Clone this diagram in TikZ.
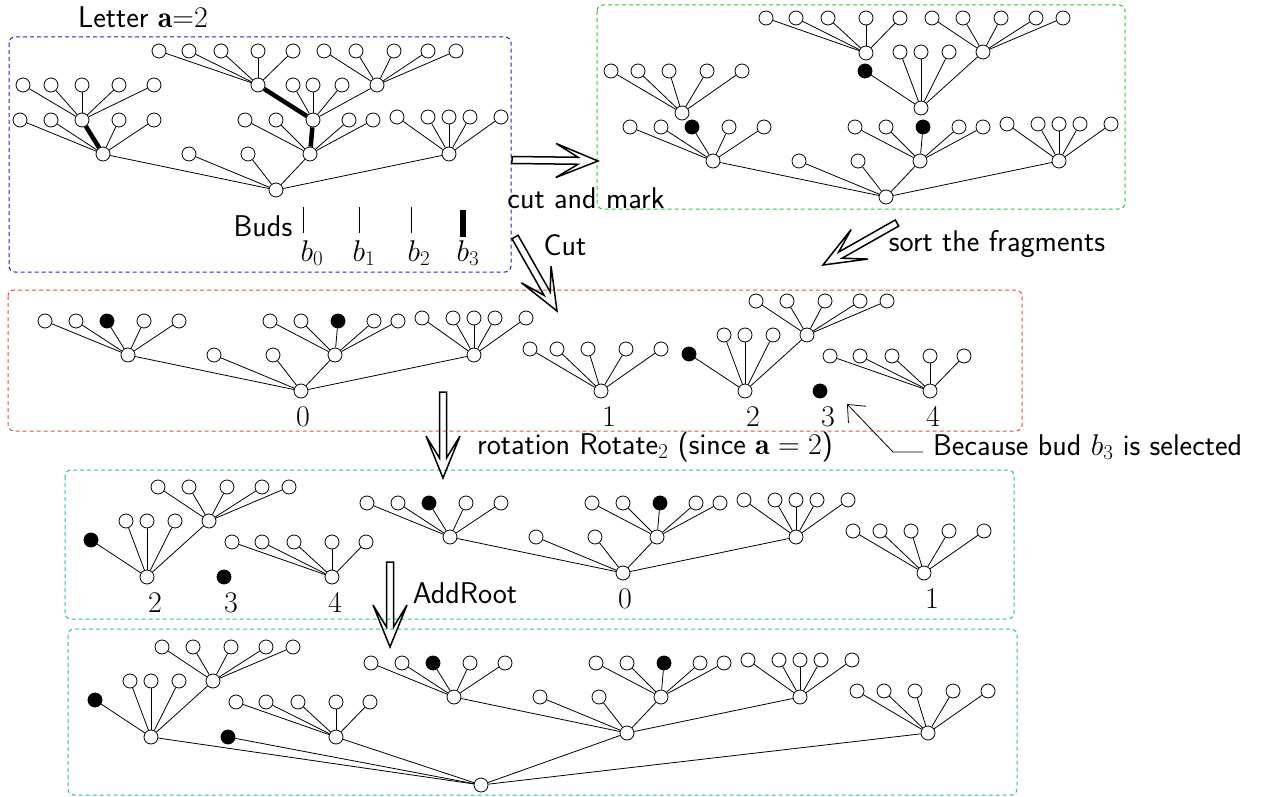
\RequirePackage{fix-cm}
\documentclass[tikz,border=0pt]{standalone}
\usepackage{fontspec}
\usetikzlibrary{calc,arrows.meta}
\renewcommand\familydefault{\sfdefault}
\definecolor{cblue}{RGB}{30,30,225}
\definecolor{cgreen}{RGB}{60,190,60}
\definecolor{cred}{RGB}{230,75,75}
\definecolor{cteal}{RGB}{45,185,185}
\tikzset{
  v/.style={circle,draw,fill=white,minimum size=14pt,inner sep=0pt,line width=0.8pt},
  bud/.style={v,fill=black},
  e/.style={line width=0.8pt},
  te/.style={line width=4.5pt},
  txt/.style={inner sep=1pt,font=\fontsize{30}{36}\selectfont},
  frame/.style={line width=1pt,dash pattern=on 4pt off 3pt,rounded corners=6pt},
  fatline/.style={line width=1.5pt,line join=miter},
  pointer/.style={line width=0.8pt,-{Straight Barb[length=14pt,width=24pt,line width=0.8pt]}}
}
\newcommand\Lroot{%
  \node[v] (R) at (0,0) {};
  \node[v] (A) at (-173,-36) {};
  \node[v] (L1) at (-87,-36) {};
  \node[v] (L2) at (-28,-36) {};
  \node[v] (B) at (34,-36) {};
  \node[v] (C) at (173,-36) {};
  \draw[e] (R) -- (A) (R) -- (L1) (R) -- (L2) (R) -- (B) (R) -- (C);
  \foreach \n/\xx in {a1/-256,a2/-225,a4/-157,a5/-122}{\node[v] (\n) at (\xx,-70) {}; \draw[e] (A) -- (\n);}
  \foreach \n/\xx in {b1/-31,b2/0,b4/73,b5/97}{\node[v] (\n) at (\xx,-70) {}; \draw[e] (B) -- (\n);}
  \foreach \n/\xx in {c1/121,c2/152,c3/173,c4/194,c5/225}{\node[v] (\n) at (\xx,-73) {}; \draw[e] (C) -- (\n);}
}
\newcommand\FragZero{\Lroot
  \node[bud] (a3) at (-194,-70) {}; \draw[e] (A) -- (a3);
  \node[bud] (b3) at (37,-70) {}; \draw[e] (B) -- (b3);}
\newcommand\FragOne{\node[v] (R) at (0,0) {};
  \foreach \n/\xx in {c1/-71,c2/-44,c3/-13,c4/25,c5/60}{\node[v] (\n) at (\xx,-42) {}; \draw[e] (R) -- (\n);}}
\newcommand\FragTwo{\node[v] (R) at (0,0) {};
  \node[bud] (x) at (-56,-37) {}; \draw[e] (R) -- (x);
  \foreach \n/\xx in {l1/-21,l2/0,l3/28}{\node[v] (\n) at (\xx,-56) {}; \draw[e] (R) -- (\n);}
  \node[v] (T) at (62,-56) {}; \draw[e] (R) -- (T);
  \foreach \n/\xx in {t1/11,t2/42,t3/80,t4/115,t5/142}{\node[v] (\n) at (\xx,-90) {}; \draw[e] (T) -- (\n);}}
\newcommand\FragThree{\node[bud] (R) at (0,0) {};}
\newcommand\FragFour{\node[v] (R) at (0,0) {};
  \foreach \n/\xx in {c1/-100,c2/-70,c3/-38,c4/0,c5/34}{\node[v] (\n) at (\xx,-35) {}; \draw[e] (R) -- (\n);}}
\newcommand\placefrag[3]{\begin{scope}[shift={#2},name prefix=#3-]#1\end{scope}}
\newcommand\fatarrow[2]{%
  \coordinate (#1-s) at ($(#2)!20pt!(#1)$);
  \coordinate (#1-b) at ($(#2)!42pt!(#1)$);
  \draw[fatline] ($(#1)!3.5pt!90:(#2)$) -- ($(#1-s)!3.5pt!90:(#2)$) -- ($(#1-b)!17pt!90:(#2)$)
    -- (#2) -- ($(#1-b)!17pt!-90:(#2)$) -- ($(#1-s)!3.5pt!-90:(#2)$) -- ($(#1)!3.5pt!-90:(#2)$) -- cycle;}
\begin{document}
\begin{tikzpicture}[x=1pt,y=-1pt]
\useasboundingbox (0,0) rectangle (1261,797);
% frames
\draw[frame,cblue] (9,37) rectangle (511,272);
\draw[frame,cgreen] (597,5) rectangle (1125,209);
\draw[frame,cred] (8,290) rectangle (1022,431);
\draw[frame,cteal] (65,470) rectangle (1014,619);
\draw[frame,cteal] (68,629) rectangle (1017,795);
% box 1: original tree
\begin{scope}[shift={(276,190)},name prefix=o-]
  \Lroot
  \node[v] (a3) at (-194,-70) {}; \draw[te] (A) -- (a3);
  \foreach \n/\xx in {p1/-253,p2/-225,p3/-194,p4/-157,p5/-122}{\node[v] (\n) at (\xx,-105) {}; \draw[e] (a3) -- (\n);}
  \node[v] (b3) at (37,-70) {}; \draw[te] (B) -- (b3);
  \node[v] (q1) at (-18,-105) {}; \draw[te] (b3) -- (q1);
  \foreach \n/\xx in {q2/17,q3/37,q4/66,q5/101}{\node[v] (\n) at (\xx,-105) {}; \draw[e] (b3) -- (\n);}
  \foreach \n/\xx in {r1/-117,r2/-87,r3/-55,r4/-18,r5/17}{\node[v] (\n) at (\xx,-139) {}; \draw[e] (q1) -- (\n);}
  \foreach \n/\xx in {s1/48,s2/80,s3/118,s4/152,s5/180}{\node[v] (\n) at (\xx,-139) {}; \draw[e] (q5) -- (\n);}
\end{scope}
\node[txt] (letter) at (143,17) {Letter $\mathbf{a}{=}2$};
\node[txt] (buds) at (263,226) {Buds};
\coordinate (bu0) at (303,207); \coordinate (bu1) at (359,207);
\coordinate (bu2) at (411,207); \coordinate (bu3) at (463,210);
\draw[e] (bu0) -- ++(0,26); \draw[e] (bu1) -- ++(0,26); \draw[e] (bu2) -- ++(0,26);
\draw[line width=5.5pt] (bu3) -- ++(0,27);
\node[txt] (bl0) at (312,253) {$b_0$};
\node[txt] (bl1) at (364,253) {$b_1$};
\node[txt] (bl2) at (419,253) {$b_2$};
\node[txt] (bl3) at (468,253) {$b_3$};
% box 2: cut and mark
\placefrag{\FragZero}{(886,197)}{g0}
\placefrag{\FragOne}{(682,113)}{g1}
\placefrag{\FragTwo}{(921,108)}{g2}
\placefrag{\FragFour}{(866,53)}{g4}
% box 3: fragments
\placefrag{\FragZero}{(301,391)}{h0}
\placefrag{\FragOne}{(601,391)}{h1}
\placefrag{\FragTwo}{(745,391)}{h2}
\placefrag{\FragThree}{(820,391)}{h3}
\placefrag{\FragFour}{(930,391)}{h4}
\node[txt] (hl0) at (303,417) {$0$};
\node[txt] (hl1) at (609,417) {$1$};
\node[txt] (hl2) at (753,417) {$2$};
\node[txt] (hl3) at (828,417) {$3$};
\node[txt] (hl4) at (933,417) {$4$};
% box 4: rotated
\placefrag{\FragTwo}{(147,577)}{k2}
\placefrag{\FragThree}{(224,577)}{k3}
\placefrag{\FragFour}{(332,577)}{k4}
\placefrag{\FragZero}{(623,573)}{k0}
\placefrag{\FragOne}{(924,573)}{k1}
\node[txt] (kl2) at (155,603) {$2$};
\node[txt] (kl3) at (231,603) {$3$};
\node[txt] (kl4) at (335,603) {$4$};
\node[txt] (kl0) at (625,599) {$0$};
\node[txt] (kl1) at (932,599) {$1$};
% box 5: add root
\placefrag{\FragTwo}{(151,737)}{m2}
\placefrag{\FragThree}{(228,737)}{m3}
\placefrag{\FragFour}{(336,737)}{m4}
\placefrag{\FragZero}{(627,733)}{m0}
\placefrag{\FragOne}{(928,733)}{m1}
\node[v] (newroot) at (481,785) {};
\foreach \f in {m2,m3,m4,m0,m1}{\draw[e] (newroot) -- (\f-R);}
% big arrows
\coordinate (a1t) at (512,160); \coordinate (a1h) at (598,161);
\fatarrow{a1t}{a1h}
\coordinate (a2t) at (515,237); \coordinate (a2h) at (557,311);
\fatarrow{a2t}{a2h}
\coordinate (a3t) at (897,223); \coordinate (a3h) at (823,265);
\fatarrow{a3t}{a3h}
\coordinate (a4t) at (443,392); \coordinate (a4h) at (443,478);
\fatarrow{a4t}{a4h}
\coordinate (a5t) at (390,562); \coordinate (a5h) at (390,647);
\fatarrow{a5t}{a5h}
\node[txt] (cutmark) at (586,198) {cut and mark};
\node[txt] (cutl) at (565,245) {Cut};
\node[txt] (sortl) at (997,244) {sort the fragments};
\node[txt] (rotl) at (655,447) {rotation Rotate$_2$ (since $\mathbf{a}=2$)};
\node[txt,anchor=west] (because) at (932,447) {Because bud $b_3$ is selected};
\node[txt] (addl) at (465,593) {AddRoot};
\coordinate (pstart) at (923,452);
\coordinate (pbend) at (893,452);
\coordinate (ptip) at (847,404);
\draw[pointer] (pstart) -- (pbend) -- (ptip);
\end{tikzpicture}
\end{document}
